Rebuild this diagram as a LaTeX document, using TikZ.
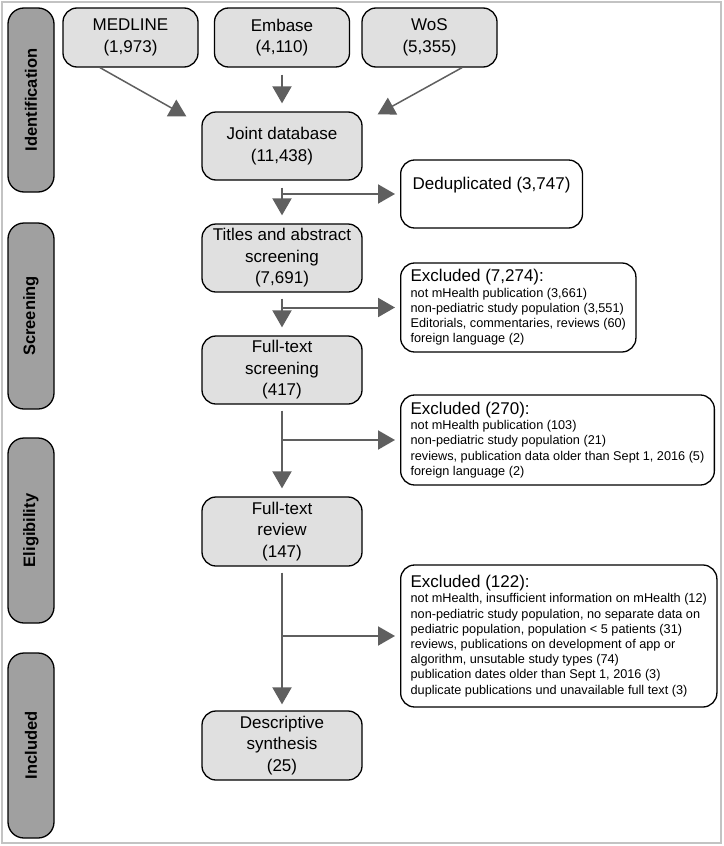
\documentclass[tikz,border=0pt]{standalone}
\usepackage{fontspec}
\setmainfont{Liberation Sans}
\usetikzlibrary{arrows.meta}
\definecolor{boxgray}{RGB}{224,224,224}
\definecolor{bargray}{RGB}{160,160,160}
\definecolor{arrowgray}{RGB}{95,95,95}
\definecolor{framegray}{RGB}{195,195,195}
\newcommand{\exhead}[1]{{\fontsize{17}{17}\selectfont #1}}

\begin{document}
\begin{tikzpicture}[x=1pt,y=-1pt,
  phase/.style={draw,line width=1.3pt,fill=bargray,rounded corners=16pt,rotate=90,minimum height=46pt,inner sep=0pt,font=\bfseries\fontsize{16.5}{18}\selectfont},
  stage/.style={draw,line width=1.3pt,fill=boxgray,rounded corners=14pt,minimum width=160pt,minimum height=68pt,inner sep=0pt,align=center,font=\fontsize{17}{21.5}\selectfont},
  source/.style={stage,minimum width=135pt,minimum height=59pt},
  excl/.style={draw,line width=1.3pt,fill=white,rounded corners=14pt,anchor=west,align=left,inner xsep=10pt,inner ysep=0pt,font=\fontsize{12.7}{15.2}\selectfont},
  flow/.style={draw=arrowgray,line width=2pt,-{Triangle[length=17pt,width=19pt]}},
  feed/.style={flow,line width=1.5pt}]
\useasboundingbox (0,0) rectangle (723,846);
\draw [framegray, line width=1.5pt] (2,2) rectangle (721,843);

\node [phase, minimum width=184pt] (ident) at (31,100) {Identification};
\node [phase, minimum width=186pt] (screen) at (31,316) {Screening};
\node [phase, minimum width=185pt] (elig) at (31,530.5) {Eligibility};
\node [phase, minimum width=185pt] (incl) at (31,745.5) {Included};

\node [source] (medline) at (130.5,37.5) {MEDLINE\\(1,973)};
\node [source] (embase) at (282,37.5) {Embase\\(4,110)};
\node [source] (wos) at (429.5,37.5) {WoS\\(5,355)};

\node [stage] (joint) at (282,146) {Joint database\\(11,438)};
\node [stage] (titles) at (282,258) {Titles and abstract\\screening\\(7,691)};
\node [stage] (fts) at (282,370) {Full-text\\screening\\(417)};
\node [stage, minimum height=69pt] (ftr) at (282,531.5) {Full-text\\review\\(147)};
\node [stage, minimum height=69pt] (synth) at (282,745.5) {Descriptive\\synthesis\\(25)};

\node [excl, inner xsep=12pt, minimum height=68pt, font=\fontsize{17}{21.5}\selectfont] (dedup) at (400,194) {Deduplicated (3,747)\\\mbox{}};
\node [excl, minimum height=89pt] (ex1) at (400,307.5) {\exhead{Excluded (7,274):}\\not mHealth publication (3,661)\\non-pediatric study population (3,551)\\Editorials, commentaries, reviews (60)\\foreign language (2)};
\node [excl, minimum height=90pt] (ex2) at (400,440) {\exhead{Excluded (270):}\\not mHealth publication (103)\\non-pediatric study population (21)\\reviews, publication data older than Sept 1, 2016 (5)\\foreign language (2)};
\node [excl, minimum height=142pt] (ex3) at (400,636) {\exhead{Excluded (122):}\\not mHealth, insufficient information on mHealth (12)\\non-pediatric study population, no separate data on\\pediatric population, population < 5 patients (31)\\reviews, publications on development of app or\\algorithm, unsutable study types (74)\\publication dates older than Sept 1, 2016 (3)\\duplicate publications und unavailable full text (3)};

\draw [feed] ([xshift=-30.5pt]medline.south) -- ([xshift=-15pt,yshift=-5pt]joint.north west);
\draw [flow, shorten <=7pt, shorten >=8pt] (embase) -- (joint);
\draw [feed] ([xshift=32.5pt]wos.south) -- ([xshift=15pt,yshift=-3pt]joint.north east);

\draw [flow, shorten <=7pt, shorten >=8pt] (joint) -- (titles);
\draw [flow, shorten >=5pt] (joint.south |- dedup.west) -- (dedup.west);
\draw [flow, shorten <=6pt, shorten >=8pt] (titles) -- (fts);
\draw [flow, shorten >=5pt] (titles.south |- ex1.west) -- (ex1.west);
\draw [flow, shorten <=6pt, shorten >=8pt] (fts) -- (ftr);
\draw [flow, shorten >=5pt] (fts.south |- ex2.west) -- (ex2.west);
\draw [flow, shorten <=6pt, shorten >=6pt] (ftr) -- (synth);
\draw [flow, shorten >=5pt] (ftr.south |- ex3.west) -- (ex3.west);
\end{tikzpicture}
\end{document}
